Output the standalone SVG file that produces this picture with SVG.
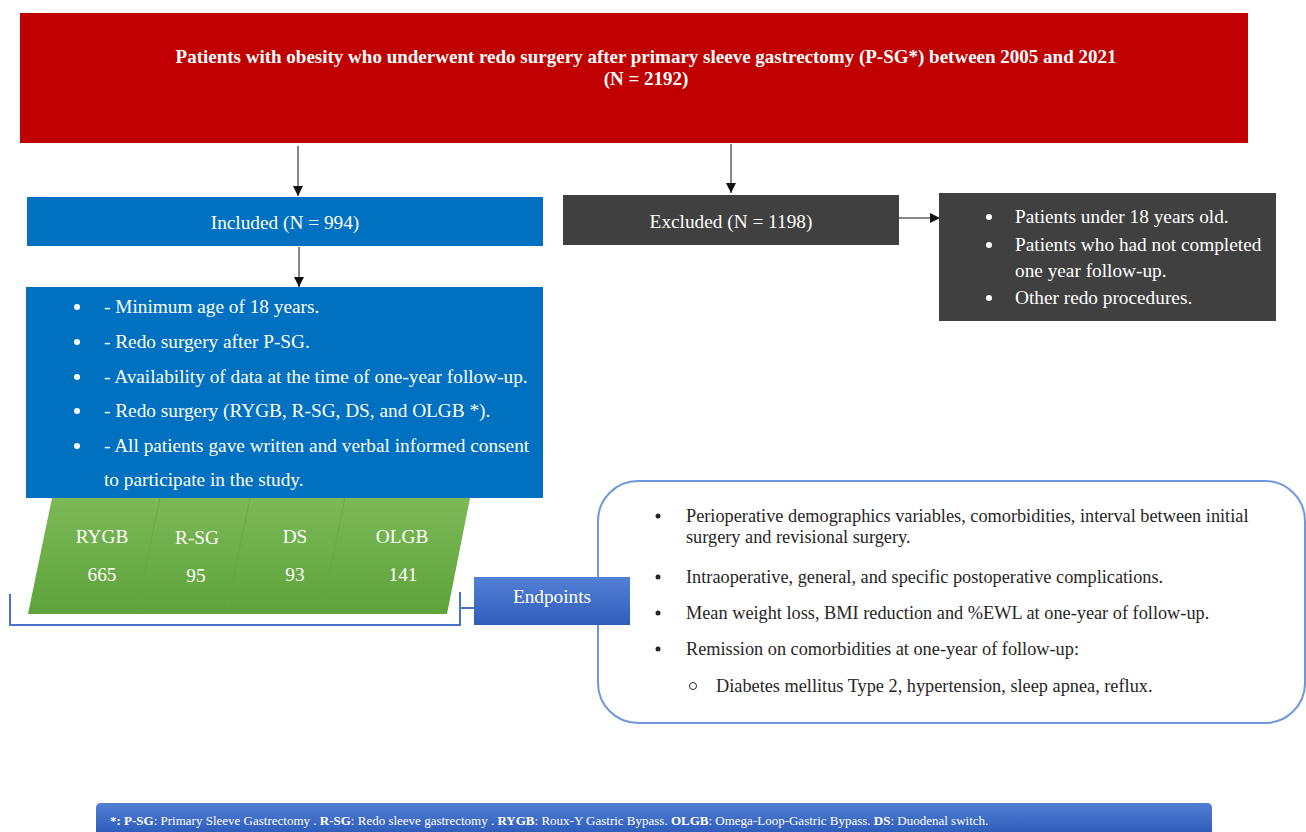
<svg xmlns="http://www.w3.org/2000/svg" width="1306" height="832" viewBox="0 0 1306 832">
<defs>
<style>
text{font-family:"Liberation Serif","Times New Roman",serif;}
.w{fill:#ffffff;}
.t18{font-size:19.3px;}
.blk{fill:#262626;font-size:18.3px;}
.ln{stroke:#111;stroke-width:1;fill:none;}
</style>
<marker id="ah" viewBox="0 0 10 10" refX="10" refY="5" markerWidth="10" markerHeight="10" markerUnits="userSpaceOnUse" orient="auto">
<path d="M0,0 L10,5 L0,10 z" fill="#111"/>
</marker>
<linearGradient id="gg" x1="0" y1="0" x2="0" y2="1">
<stop offset="0" stop-color="#7cb957"/>
<stop offset="1" stop-color="#5ea33a"/>
</linearGradient>
<linearGradient id="bg" x1="0" y1="0" x2="0" y2="1">
<stop offset="0" stop-color="#5380d4"/>
<stop offset="1" stop-color="#2f5dbb"/>
</linearGradient>
</defs>
<rect width="1306" height="832" fill="#ffffff"/>

<g id="connectors">
<line class="ln" x1="298" y1="146" x2="298" y2="196" marker-end="url(#ah)"/>
<line class="ln" x1="731" y1="144" x2="731" y2="193" marker-end="url(#ah)"/>
<line class="ln" x1="299" y1="247" x2="299" y2="287" marker-end="url(#ah)"/>
<line class="ln" x1="899" y1="218" x2="940" y2="218" marker-end="url(#ah)"/>
<path d="M10,594 V625 H460 V592 M460,608 H474" stroke="#4a72c8" stroke-width="2" fill="none"/>
</g>

<g id="top">
<rect x="20" y="13" width="1228" height="130" fill="#c00000"/>
<text class="w" x="646" y="63" text-anchor="middle" font-size="19" font-weight="bold">Patients with obesity who underwent redo surgery after primary sleeve gastrectomy (P-SG*) between 2005 and 2021</text>
<text class="w" x="646" y="85" text-anchor="middle" font-size="19" font-weight="bold">(N = 2192)</text>
</g>

<g id="included">
<rect x="27" y="197" width="516" height="49" fill="#0070c0"/>
<text class="w t18" x="285" y="229" text-anchor="middle">Included (N = 994)</text>
</g>

<g id="criteria">
<rect x="26" y="287" width="517" height="211" fill="#0070c0"/>
<g class="w t18">
<circle cx="77" cy="307" r="3" fill="#fff"/><text x="104" y="313">- Minimum age of 18 years.</text>
<circle cx="77" cy="342" r="3" fill="#fff"/><text x="104" y="348">- Redo surgery after P-SG.</text>
<circle cx="77" cy="377" r="3" fill="#fff"/><text x="104" y="383">- Availability of data at the time of one-year follow-up.</text>
<circle cx="77" cy="411" r="3" fill="#fff"/><text x="104" y="417">- Redo surgery (RYGB, R-SG, DS, and OLGB *).</text>
<circle cx="77" cy="446" r="3" fill="#fff"/><text x="104" y="452">- All patients gave written and verbal informed consent</text>
<text x="104" y="486">to participate in the study.</text>
</g>
</g>

<g id="excluded">
<rect x="563" y="195" width="336" height="50" fill="#404040"/>
<text class="w t18" x="731" y="228" text-anchor="middle">Excluded (N = 1198)</text>
</g>

<g id="exclusion">
<rect x="939" y="193" width="337" height="128" fill="#404040"/>
<g class="w t18">
<circle cx="989" cy="217" r="3" fill="#fff"/><text x="1015" y="223">Patients under 18 years old.</text>
<circle cx="989" cy="245" r="3" fill="#fff"/><text x="1015" y="251">Patients who had not completed</text>
<text x="1015" y="277">one year follow-up.</text>
<circle cx="989" cy="298" r="3" fill="#fff"/><text x="1015" y="304">Other redo procedures.</text>
</g>
</g>

<g id="procedures">
<polygon points="52,498 470,498 447,614 28,614" fill="url(#gg)"/>
<g stroke="#6aa547" stroke-width="1" opacity="0.8">
<line x1="160" y1="498" x2="136" y2="614"/>
<line x1="250" y1="498" x2="226" y2="614"/>
<line x1="345" y1="498" x2="321" y2="614"/>
</g>
<g class="w t18" text-anchor="middle">
<text x="102" y="543">RYGB</text><text x="102" y="581">665</text>
<text x="197" y="544">R-SG</text><text x="196" y="582">95</text>
<text x="295" y="543">DS</text><text x="295" y="581">93</text>
<text x="402" y="543">OLGB</text><text x="403" y="581">141</text>
</g>
</g>

<g id="endpoints-box">
<rect x="598" y="481" width="707" height="242" rx="40" ry="40" fill="#ffffff" stroke="#6f97dc" stroke-width="2"/>
<g class="blk">
<circle cx="658" cy="516" r="2.5" fill="#262626"/><text x="686" y="522">Perioperative demographics variables, comorbidities, interval between initial</text>
<text x="686" y="543">surgery and revisional surgery.</text>
<circle cx="658" cy="577" r="2.5" fill="#262626"/><text x="686" y="583">Intraoperative, general, and specific postoperative complications.</text>
<circle cx="658" cy="613" r="2.5" fill="#262626"/><text x="686" y="619">Mean weight loss, BMI reduction and %EWL at one-year of follow-up.</text>
<circle cx="658" cy="649" r="2.5" fill="#262626"/><text x="686" y="655">Remission on comorbidities at one-year of follow-up:</text>
<circle cx="693" cy="686" r="3.5" fill="none" stroke="#262626" stroke-width="1"/><text x="716" y="692">Diabetes mellitus Type 2, hypertension, sleep apnea, reflux.</text>
</g>
</g>

<g id="endpoints">
<rect x="474" y="577" width="156" height="48" fill="url(#bg)"/>
<text class="w t18" x="552" y="603" text-anchor="middle">Endpoints</text>
</g>

<g id="footer">
<path d="M96,832 V808 Q96,803 101,803 H1207 Q1212,803 1212,808 V832 Z" fill="url(#bg)"/>
<text class="w" x="110" y="825" font-size="13"><tspan font-weight="bold">*: P-SG</tspan>: Primary Sleeve Gastrectomy . <tspan font-weight="bold">R-SG</tspan>: Redo sleeve gastrectomy . <tspan font-weight="bold">RYGB</tspan>: Roux-Y Gastric Bypass. <tspan font-weight="bold">OLGB</tspan>: Omega-Loop-Gastric Bypass. <tspan font-weight="bold">DS</tspan>: Duodenal switch.</text>
</g>
</svg>
